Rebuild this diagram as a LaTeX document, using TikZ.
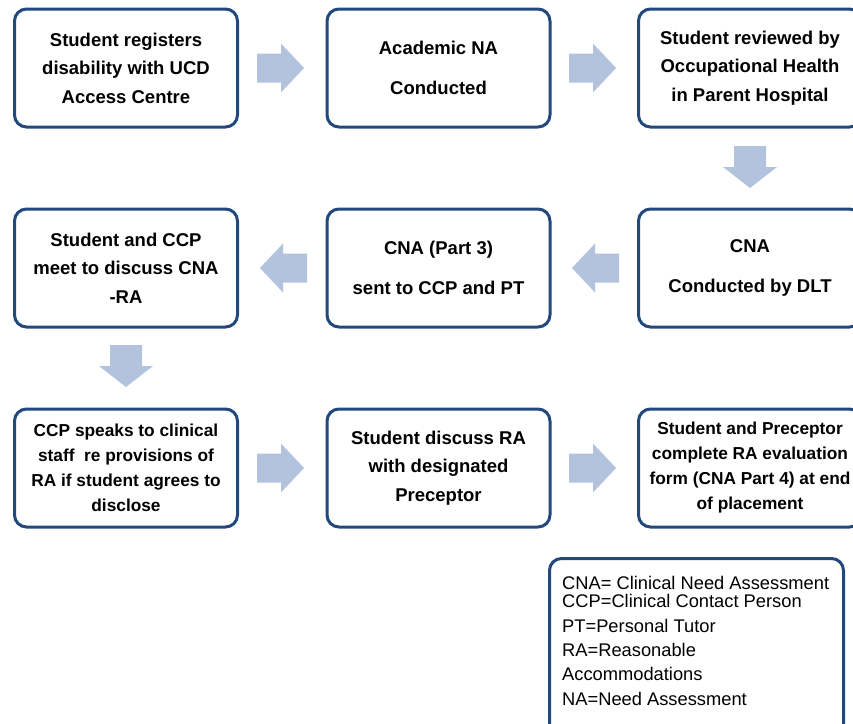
\documentclass[tikz,border=0pt]{standalone}
\usepackage{fontspec}
\setmainfont{Liberation Sans}
\definecolor{boxblue}{RGB}{35,72,124}
\definecolor{arrfill}{RGB}{179,194,221}
\tikzset{
  stepbox/.style={draw=boxblue, line width=3pt, rounded corners=12pt, fill=white,
    minimum width=223pt, minimum height=118pt, align=center, inner sep=0pt, text=black},
  three/.style={font=\fontsize{18.5}{28.5}\selectfont\bfseries},
  two/.style={font=\fontsize{18.5}{40}\selectfont\bfseries},
  four/.style={font=\fontsize{17.3}{25}\selectfont\bfseries},
  legline/.style={anchor=base west, inner sep=0pt, font=\fontsize{18.3}{22}\selectfont},
  rarr/.pic={\fill[arrfill] (0,-14.5) -- (24,-14.5) -- (24,-24.5) -- (47,0) -- (24,24.5) -- (24,14.5) -- (0,14.5) -- cycle;},
  larr/.pic={\fill[arrfill] (0,0) -- (23,-24.5) -- (23,-14.5) -- (47,-14.5) -- (47,14.5) -- (23,14.5) -- (23,24.5) -- cycle;},
  darr/.pic={\fill[arrfill] (-16,0) -- (16,0) -- (16,21) -- (27,21) -- (0,42) -- (-27,21) -- (-16,21) -- cycle;}
}
\begin{document}
\begin{tikzpicture}[x=1pt,y=-1pt]
\useasboundingbox (0,0) rectangle (853,723);
\clip (0,0) rectangle (853,723);
% row 1
\node[stepbox,three] (b1) at (126,68) {Student registers\\disability with UCD\\Access Centre};
\node[stepbox,two] (b2) at (438.5,68) {Academic NA\\Conducted};
\node[stepbox,three] (b3) at (750,68) {Student reviewed by\\Occupational Health\\in Parent Hospital};
% row 2
\node[stepbox,three] (b6) at (126,268) {Student and CCP\\meet to discuss CNA\\-RA};
\node[stepbox,two] (b5) at (438.5,268) {CNA (Part 3)\\sent to CCP and PT};
\node[stepbox,two] (b4) at (750,268) {CNA\\Conducted by DLT};
% row 3
\node[stepbox,four] (b7) at (126,468) {CCP speaks to clinical\\staff\ \ re provisions of\\RA if student agrees to\\disclose};
\node[stepbox,three] (b8) at (438.5,468) {Student discuss RA\\with designated\\Preceptor};
\node[stepbox,four] (b9) at (750,468) {Student and Preceptor\\complete RA evaluation\\form (CNA Part 4) at end\\of placement};
% block arrows
\pic at (257,68) {rarr};
\pic at (569,68) {rarr};
\pic at (750,146) {darr};
\pic at (572,268) {larr};
\pic at (260,268) {larr};
\pic at (126,345) {darr};
\pic at (257,468) {rarr};
\pic at (569,468) {rarr};
% legend
\node[draw=boxblue, line width=3pt, rounded corners=12pt, minimum width=294pt, minimum height=190pt, inner sep=0pt] (legend) at (696.5,653.5) {};
\node[legline] (l1) at (562,589) {CNA= Clinical Need Assessment};
\node[legline] (l2) at (562,607) {CCP=Clinical Contact Person};
\node[legline] (l3) at (562,632) {PT=Personal Tutor};
\node[legline] (l4) at (562,656) {RA=Reasonable};
\node[legline] (l5) at (562,680) {Accommodations};
\node[legline] (l6) at (562,705) {NA=Need Assessment};
\end{tikzpicture}
\end{document}
